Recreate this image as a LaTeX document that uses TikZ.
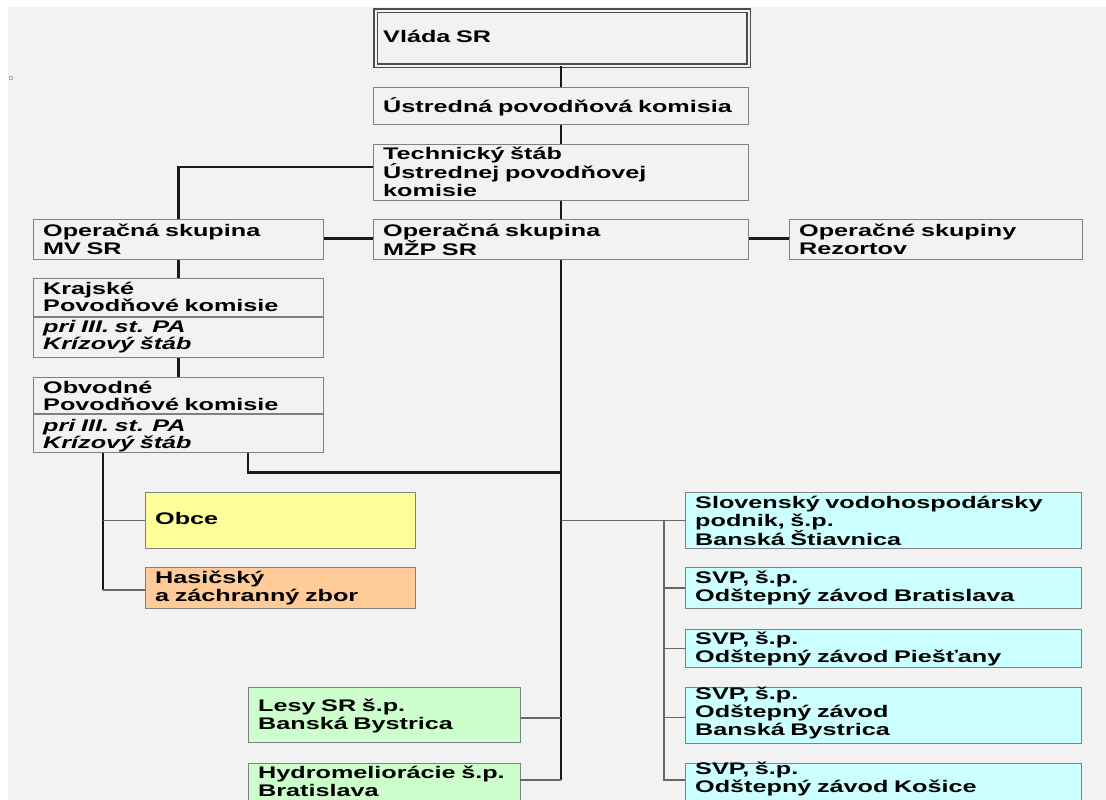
\documentclass[tikz,border=0pt]{standalone}
\usepackage{fontspec}
\setmainfont{Liberation Sans}[FakeStretch=1.5]
\usetikzlibrary{calc}
\definecolor{bg}{HTML}{F2F2F2}
\definecolor{yel}{HTML}{FFFF99}
\definecolor{ora}{HTML}{FFCC99}
\definecolor{cya}{HTML}{CCFFFF}
\definecolor{gre}{HTML}{CCFFCC}
\begin{document}
\begin{tikzpicture}[x=1pt,y=-1pt,
  box/.style={draw=black!50,line width=1.3pt,fill=bg,rectangle,inner sep=0pt,anchor=north west},
  txt/.style={anchor=base west,inner sep=0pt,text width=420pt,align=left,
              font=\fontsize{16.8}{18.3}\selectfont\bfseries},
  txttight/.style={txt,font=\fontsize{16.8}{17}\selectfont\bfseries},
  main/.style={draw=black!90,line width=2.6pt},
  branch/.style={draw=black!60,line width=1.4pt}]
\useasboundingbox (0,0) rectangle (1106,800);
\clip (0,0) rectangle (1106,800);
\fill[white] (0,0) rectangle (1106,800);
\fill[bg] (8,7) rectangle (1106,800);
\draw[black!30,line width=1pt] (9,77) rectangle (12,80);

% boxes
\node[box,draw=black!70,double=bg,double distance=2pt,line width=1.2pt,
      minimum width=373pt,minimum height=55pt] (vlada) at (375,10) {};
\node[box,minimum width=375pt,minimum height=37pt] (ustr) at (373,87) {};
\node[box,minimum width=375pt,minimum height=56pt] (tech) at (373,144) {};
\node[box,minimum width=290pt,minimum height=40pt] (mv) at (33,219) {};
\node[box,minimum width=375pt,minimum height=40pt] (mzp) at (373,219) {};
\node[box,minimum width=293pt,minimum height=40pt] (rez) at (789,219) {};
\node[box,minimum width=290pt,minimum height=79pt] (krj) at (33,278) {};
\node[box,minimum width=290pt,minimum height=75pt] (obv) at (33,377) {};
\node[box,fill=yel,minimum width=270pt,minimum height=56pt] (obce) at (145,492) {};
\node[box,fill=ora,minimum width=270pt,minimum height=41pt] (has) at (145,567) {};
\node[box,fill=cya,minimum width=396pt,minimum height=56pt] (svp1) at (685,492) {};
\node[box,fill=cya,minimum width=396pt,minimum height=41pt] (bra) at (685,567) {};
\node[box,fill=cya,minimum width=396pt,minimum height=38pt] (pie) at (685,629) {};
\node[box,fill=cya,minimum width=396pt,minimum height=56pt] (bb) at (685,687) {};
\node[box,fill=cya,minimum width=396pt,minimum height=60pt] (kos) at (685,763) {};
\node[box,fill=gre,minimum width=272pt,minimum height=55pt] (lesy) at (248,687) {};
\node[box,fill=gre,minimum width=272pt,minimum height=60pt] (hydro) at (248,763) {};

% dividers
\draw[black!50,line width=1.3pt] ($(krj.north west)+(0,39)$) -- ($(krj.north east)+(0,39)$);
\draw[black!50,line width=1.3pt] ($(obv.north west)+(0,37)$) -- ($(obv.north east)+(0,37)$);

% texts
\node[txt] (tvlada) at (383,43) {Vláda SR};
\node[txt] (tustr) at (383,112) {Ústredná povodňová komisia};
\node[txt] (ttech) at (383,159) {Technický štáb\\Ústrednej povodňovej\\komisie};
\node[txt] (tmv) at (43,236) {Operačná skupina\\MV SR};
\node[txt] (tmzp) at (383,236) {Operačná skupina\\MŽP SR};
\node[txt] (trez) at (799,236) {Operačné skupiny\\Rezortov};
\node[txttight] (tkrj) at (43,294) {Krajské\\Povodňové komisie\\[4pt]\itshape pri III. st. PA\\\itshape Krízový štáb};
\node[txttight] (tobv) at (43,393) {Obvodné\\Povodňové komisie\\[4pt]\itshape pri III. st. PA\\\itshape Krízový štáb};
\node[txt] (tobce) at (155,524) {Obce};
\node[txt] (thas) at (155,583) {Hasičský\\a záchranný zbor};
\node[txt] (tsvp1) at (695,508) {Slovenský vodohospodársky\\podnik, š.p.\\Banská Štiavnica};
\node[txt] (tbra) at (695,583) {SVP, š.p.\\Odštepný závod Bratislava};
\node[txt] (tpie) at (695,644) {SVP, š.p.\\Odštepný závod Piešťany};
\node[txt] (tbb) at (695,699) {SVP, š.p.\\Odštepný závod\\Banská Bystrica};
\node[txt] (tkos) at (695,774) {SVP, š.p.\\Odštepný závod Košice};
\node[txt] (tlesy) at (258,711) {Lesy SR š.p.\\Banská Bystrica};
\node[txt] (thydro) at (258,778) {Hydromeliorácie š.p.\\Bratislava};

% main connectors
\draw[main] (ustr.north |- vlada.south) -- (ustr.north);
\draw[main] (ustr.south) -- (tech.north);
\draw[main] (tech.south) -- (mzp.north);
\draw[main] ($(tech.north west)+(0,23)$) -| (mv.north);
\draw[main] ($(mv.east)+(0,-1)$) -- ($(mzp.west)+(0,-1)$);
\draw[main] ($(mzp.east)+(0,-1)$) -- ($(rez.west)+(0,-1)$);
\draw[main] (mv.south) -- (krj.north);
\draw[main] (krj.south) -- (obv.north);
\coordinate (hydIn) at ($(hydro.north west)+(272,17)$);
\draw[main] (mzp.south) -- (mzp.south |- hydIn) coordinate (mBot);
\draw[main] ($(obv.south west)+(215,0)$) |- ($(mzp.south)+(0,212)$);
\coordinate (hasIn) at ($(has.north west)+(0,23)$);
\draw[main] ($(obv.south west)+(70,0)$) coordinate (lTop) -- (lTop |- hasIn) coordinate (lBot);

% branch connectors
\draw[branch] (lBot) -- (hasIn);
\draw[branch] (lTop |- obce.west) -- (obce.west);
\draw[branch] (hydIn) -- (mBot);
\draw[branch] ($(lesy.east)+(0,3)$) -- ($(mzp.south |- lesy.east)+(0,3)$);
\draw[branch] (mzp.south |- svp1.west) -- (svp1.west);
\coordinate (rx) at ($(svp1.west)+(-21,0)$);
\coordinate (kosIn) at ($(kos.north west)+(0,17)$);
\draw[branch] (rx) |- (kosIn);
\draw[branch] (rx |- bra.west) -- (bra.west);
\draw[branch] (rx |- pie.west) -- (pie.west);
\draw[branch] ($(rx |- bb.west)+(0,2)$) -- ($(bb.west)+(0,2)$);
\end{tikzpicture}
\end{document}
